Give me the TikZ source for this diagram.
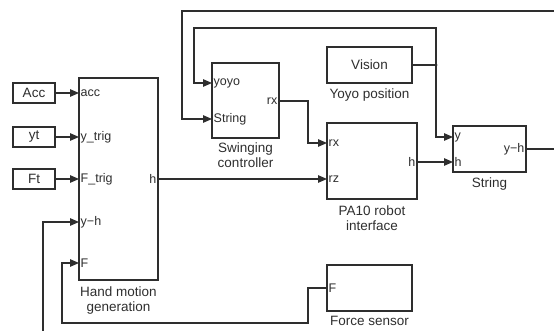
\documentclass[tikz,border=0pt]{standalone}
\usepackage{fontspec}
\setmainfont{Liberation Sans}
\usetikzlibrary{arrows.meta}

\definecolor{ink}{gray}{0.18}

\tikzset{
  blk/.style={draw=ink, line width=1.3pt, fill=white, inner sep=0pt},
  src/.style={blk, font=\fontsize{13.5}{15}\selectfont, text=ink},
  port/.style={font=\fontsize{12.5}{14}\selectfont, text=ink, inner sep=1.5pt},
  title/.style={font=\fontsize{13.5}{15}\selectfont, text=ink, align=center, inner sep=0pt},
  wire/.style={draw=ink, line width=1.2pt},
  sig/.style={wire, -{Triangle[length=9pt,width=7.5pt]}}
}

\begin{document}
\begin{tikzpicture}[x=1pt,y=-1pt]
  \useasboundingbox (0,0) rectangle (554,331);

  % source blocks
  \node[src, minimum width=42pt, minimum height=20pt] (acc) at (34,93)  {Acc};
  \node[src, minimum width=42pt, minimum height=20pt] (yt)  at (34,137) {yt};
  \node[src, minimum width=42pt, minimum height=20pt] (ft)  at (34,179) {Ft};

  % subsystems
  \node[blk, minimum width=79pt, minimum height=202pt] (hm)  at (118.5,179) {};
  \node[blk, minimum width=67pt, minimum height=75pt]  (sc)  at (245.5,100.5) {};
  \node[src, minimum width=85pt, minimum height=36pt]  (vis) at (369.5,65) {Vision};
  \node[blk, minimum width=90pt, minimum height=76pt]  (pa)  at (372,161) {};
  \node[blk, minimum width=73pt, minimum height=46pt]  (str) at (489.5,149) {};
  \node[blk, minimum width=85pt, minimum height=46pt]  (fs)  at (369.5,288) {};

  % port positions
  \coordinate (hm-acc) at (79,93);
  \coordinate (hm-yt)  at (79,137);
  \coordinate (hm-ft)  at (79,179);
  \coordinate (hm-yh)  at (79,222);
  \coordinate (hm-f)   at (79,263);
  \coordinate (hm-h)   at (158,179);
  \coordinate (sc-yoyo) at (212,83);
  \coordinate (sc-str)  at (212,119);
  \coordinate (sc-rx)   at (279,101);
  \coordinate (pa-rx) at (327,143);
  \coordinate (pa-rz) at (327,179);
  \coordinate (pa-h)  at (417,162);
  \coordinate (str-y)  at (453,137);
  \coordinate (str-h)  at (453,162);
  \coordinate (str-yh) at (526,149);
  \coordinate (fs-f) at (327,288);
  \coordinate (jn) at (436,65);

  % loose ends running off the sheet
  \coordinate (topend) at (554,11);
  \coordinate (rightend) at (554,149);
  \coordinate (botend) at (43,331);

  % port labels
  \node[port, anchor=west] at (hm-acc) {acc};
  \node[port, anchor=west] at (hm-yt)  {y\_trig};
  \node[port, anchor=west] at (hm-ft)  {F\_trig};
  \node[port, anchor=west] at (hm-yh)  {y−h};
  \node[port, anchor=west] at (hm-f)   {F};
  \node[port, anchor=east] at (hm-h)   {h};
  \node[port, anchor=west] at (sc-yoyo) {yoyo};
  \node[port, anchor=west] at (sc-str)  {String};
  \node[port, anchor=east] at (sc-rx)   {rx};
  \node[port, anchor=west] at (pa-rx) {rx};
  \node[port, anchor=west] at (pa-rz) {rz};
  \node[port, anchor=east] at (pa-h)  {h};
  \node[port, anchor=west] at (str-y)  {y};
  \node[port, anchor=west] at (str-h)  {h};
  \node[port, anchor=east] at (str-yh) {y−h};
  \node[port, anchor=west] at (fs-f) {F};

  % block titles
  \node[title, anchor=north] at ([yshift=-6pt]hm.south)  {Hand motion\\generation};
  \node[title, anchor=north] at ([yshift=-4pt]sc.south)  {Swinging\\controller};
  \node[title, anchor=north] at ([yshift=-5pt]vis.south) {Yoyo position};
  \node[title, anchor=north] at ([yshift=-6pt]pa.south)  {PA10 robot\\interface};
  \node[title, anchor=north] at ([yshift=-5pt]str.south) {String};
  \node[title, anchor=north] at ([yshift=-4pt]fs.south)  {Force sensor};

  % constant inputs
  \draw[sig] (acc.east |- hm-acc) -- (hm-acc);
  \draw[sig] (yt.east |- hm-yt) -- (hm-yt);
  \draw[sig] (ft.east |- hm-ft) -- (hm-ft);

  % forward path
  \draw[sig] (hm-h) -- (pa-rz);
  \draw[sig] (sc-rx) -| (308,122) |- (pa-rx);
  \draw[sig] (pa-h) -- (str-h);

  % vision measurement
  \draw[wire] (vis.east |- jn) -- (jn);
  \fill[ink] (jn) circle (1.7pt);
  \draw[sig] (jn) |- (str-y);
  \draw[sig] (jn) |- (315,28) -| (194,60) |- (sc-yoyo);

  % string feedback
  \draw[wire] (str-yh) -- (rightend);
  \draw[sig] (topend) -| (182,60) |- (sc-str);
  \draw[sig] (botend) |- (hm-yh);

  % force feedback
  \draw[sig] (fs-f) -| (308,305) |- (62,323) |- (hm-f);
\end{tikzpicture}
\end{document}
